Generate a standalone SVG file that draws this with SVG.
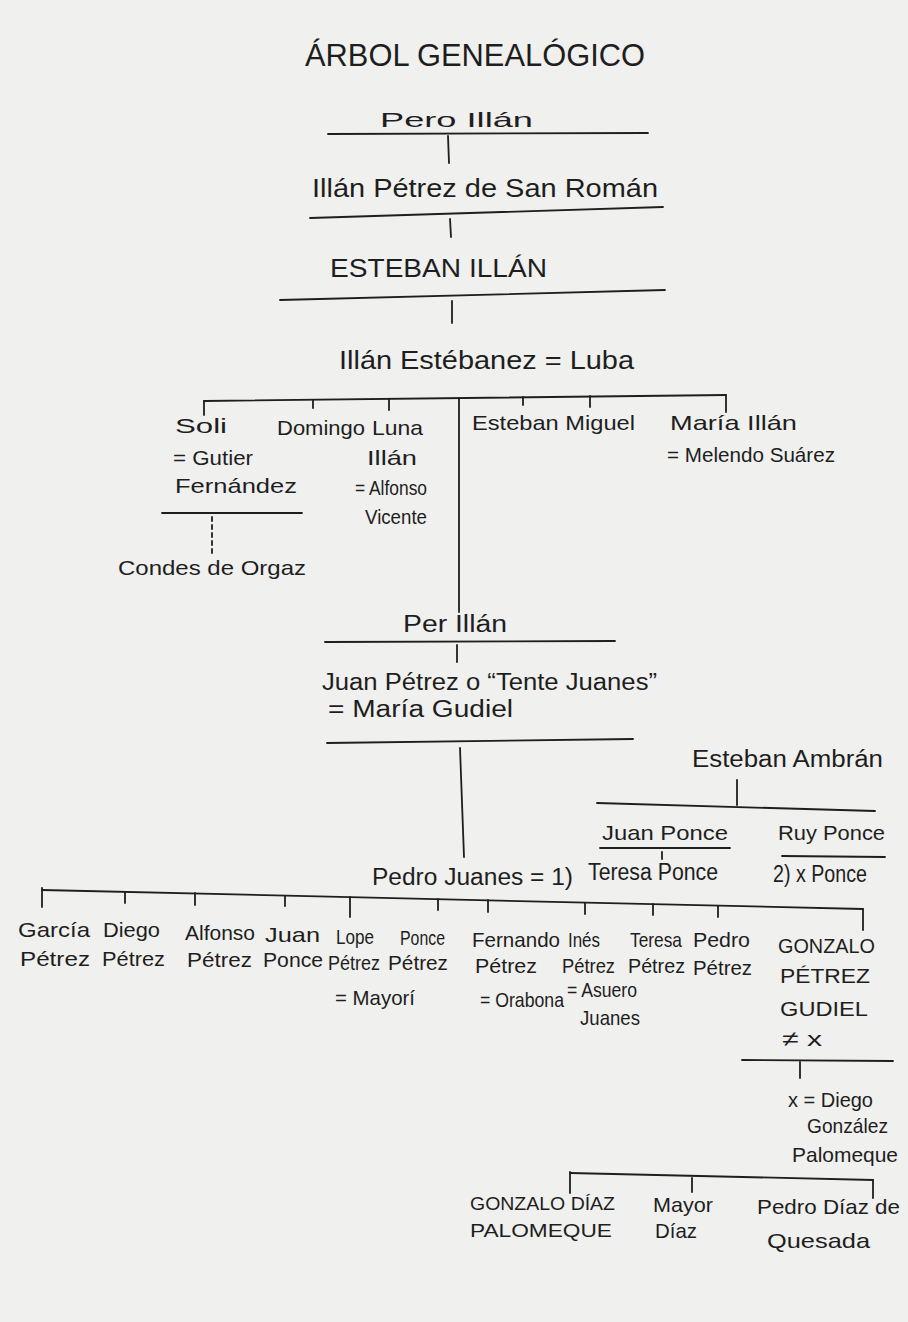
<svg xmlns="http://www.w3.org/2000/svg" width="908" height="1322" viewBox="0 0 908 1322">
<style>
text{font-family:"Liberation Sans","DejaVu Sans",sans-serif;fill:#1e1e1e;font-size:21px}
.t{font-size:32px}
.l{font-size:26px}
.m{font-size:23px}
.s{font-size:18px}
#connectors line{stroke:#1e1e1e;stroke-width:1.8;stroke-linecap:round}
#connectors .dash{stroke-dasharray:4 4}
</style>
<rect width="908" height="1322" fill="#f0f0ee"/>
<g id="title"><text class="t" x="305" y="66" textLength="340" lengthAdjust="spacingAndGlyphs">ÁRBOL GENEALÓGICO</text></g>
<g id="connectors">
<line x1="328" y1="134" x2="648" y2="133"/>
<line x1="448" y1="136" x2="449" y2="163"/>
<line x1="310" y1="218" x2="663" y2="207"/>
<line x1="450" y1="219" x2="451" y2="237"/>
<line x1="280" y1="300" x2="665" y2="290"/>
<line x1="452" y1="301" x2="452" y2="323"/>
<line x1="204" y1="401" x2="726" y2="395"/>
<line x1="204" y1="401" x2="204" y2="415"/>
<line x1="313" y1="400" x2="313" y2="408"/>
<line x1="389" y1="399" x2="389" y2="410"/>
<line x1="523" y1="397" x2="523" y2="405"/>
<line x1="590" y1="396" x2="590" y2="407"/>
<line x1="726" y1="395" x2="726" y2="412"/>
<line x1="459" y1="398" x2="459" y2="612"/>
<line x1="162" y1="513" x2="302" y2="513"/>
<line class="dash" x1="212" y1="517" x2="212" y2="555"/>
<line x1="325" y1="642" x2="615" y2="641"/>
<line x1="457" y1="645" x2="457" y2="662"/>
<line x1="327" y1="743" x2="633" y2="739"/>
<line x1="460" y1="748" x2="464" y2="857"/>
<line x1="737" y1="780" x2="737" y2="805"/>
<line x1="597" y1="803" x2="875" y2="811"/>
<line x1="600" y1="848" x2="730" y2="848"/>
<line x1="782" y1="856" x2="885" y2="857"/>
<line x1="662" y1="852" x2="662" y2="859"/>
<line x1="42" y1="890" x2="863" y2="909"/>
<line x1="42" y1="888" x2="42" y2="907"/>
<line x1="125" y1="892" x2="125" y2="903"/>
<line x1="195" y1="893" x2="195" y2="905"/>
<line x1="285" y1="896" x2="285" y2="906"/>
<line x1="350" y1="897" x2="350" y2="917"/>
<line x1="438" y1="899" x2="438" y2="910"/>
<line x1="488" y1="900" x2="488" y2="912"/>
<line x1="585" y1="903" x2="585" y2="914"/>
<line x1="653" y1="904" x2="653" y2="915"/>
<line x1="718" y1="906" x2="718" y2="917"/>
<line x1="863" y1="909" x2="863" y2="930"/>
<line x1="742" y1="1060" x2="893" y2="1061"/>
<line x1="800" y1="1062" x2="800" y2="1078"/>
<line x1="570" y1="1173" x2="873" y2="1180"/>
<line x1="570" y1="1172" x2="570" y2="1193"/>
<line x1="692" y1="1178" x2="692" y2="1192"/>
<line x1="873" y1="1180" x2="873" y2="1198"/>
</g>
<g id="pero-illan"><text x="380" y="127" font-size="26" textLength="153" lengthAdjust="spacingAndGlyphs">Pero Illán</text></g>
<g id="illan-petrez"><text class="l" x="312" y="197" textLength="346" lengthAdjust="spacingAndGlyphs">Illán Pétrez de San Román</text></g>
<g id="esteban-illan"><text class="l" x="330" y="277" textLength="217" lengthAdjust="spacingAndGlyphs">ESTEBAN ILLÁN</text></g>
<g id="illan-estebanez"><text class="l" x="339" y="369" textLength="295" lengthAdjust="spacingAndGlyphs">Illán Estébanez = Luba</text></g>
<g id="soli">
<text x="175" y="433" font-size="23" textLength="52" lengthAdjust="spacingAndGlyphs">Soli</text>
<text x="173" y="465" textLength="80" lengthAdjust="spacingAndGlyphs">= Gutier</text>
<text x="175" y="493" textLength="122" lengthAdjust="spacingAndGlyphs">Fernández</text>
</g>
<g id="condes-orgaz"><text x="118" y="575" textLength="188" lengthAdjust="spacingAndGlyphs">Condes de Orgaz</text></g>
<g id="domingo"><text x="277" y="435" textLength="88" lengthAdjust="spacingAndGlyphs">Domingo</text></g>
<g id="luna">
<text x="372" y="435" textLength="51" lengthAdjust="spacingAndGlyphs">Luna</text>
<text x="367" y="465" textLength="50" lengthAdjust="spacingAndGlyphs">Illán</text>
<text x="355" y="495" textLength="72" lengthAdjust="spacingAndGlyphs">= Alfonso</text>
<text x="365" y="524" textLength="62" lengthAdjust="spacingAndGlyphs">Vicente</text>
</g>
<g id="esteban-miguel"><text x="472" y="430" textLength="163" lengthAdjust="spacingAndGlyphs">Esteban Miguel</text></g>
<g id="maria-illan">
<text x="670" y="430" textLength="127" lengthAdjust="spacingAndGlyphs">María Illán</text>
<text x="667" y="462" textLength="168" lengthAdjust="spacingAndGlyphs">= Melendo Suárez</text>
</g>
<g id="per-illan"><text class="m" x="403" y="632" textLength="104" lengthAdjust="spacingAndGlyphs">Per Illán</text></g>
<g id="juan-petrez">
<text class="m" x="322" y="690" textLength="335" lengthAdjust="spacingAndGlyphs">Juan Pétrez o “Tente Juanes”</text>
<text class="m" x="328" y="717" textLength="185" lengthAdjust="spacingAndGlyphs">= María Gudiel</text>
</g>
<g id="esteban-ambran"><text class="m" x="692" y="767" textLength="191" lengthAdjust="spacingAndGlyphs">Esteban Ambrán</text></g>
<g id="juan-ponce"><text x="602" y="840" textLength="126" lengthAdjust="spacingAndGlyphs">Juan Ponce</text></g>
<g id="ruy-ponce"><text x="778" y="840" textLength="107" lengthAdjust="spacingAndGlyphs">Ruy Ponce</text></g>
<g id="pedro-juanes"><text class="m" x="372" y="885" textLength="201" lengthAdjust="spacingAndGlyphs">Pedro Juanes = 1)</text></g>
<g id="teresa-ponce"><text class="m" x="588" y="880" textLength="130" lengthAdjust="spacingAndGlyphs">Teresa Ponce</text></g>
<g id="x-ponce"><text class="m" x="773" y="882" textLength="94" lengthAdjust="spacingAndGlyphs">2) x Ponce</text></g>
<g id="garcia"><text x="18" y="937" textLength="72" lengthAdjust="spacingAndGlyphs">García</text><text x="20" y="966" textLength="70" lengthAdjust="spacingAndGlyphs">Pétrez</text></g>
<g id="diego"><text x="103" y="937" textLength="57" lengthAdjust="spacingAndGlyphs">Diego</text><text x="102" y="966" textLength="63" lengthAdjust="spacingAndGlyphs">Pétrez</text></g>
<g id="alfonso"><text x="185" y="940" textLength="70" lengthAdjust="spacingAndGlyphs">Alfonso</text><text x="187" y="967" textLength="65" lengthAdjust="spacingAndGlyphs">Pétrez</text></g>
<g id="juan"><text x="265" y="942" textLength="55" lengthAdjust="spacingAndGlyphs">Juan</text><text x="263" y="967" textLength="60" lengthAdjust="spacingAndGlyphs">Ponce</text></g>
<g id="lope"><text x="336" y="944" textLength="38" lengthAdjust="spacingAndGlyphs">Lope</text><text x="328" y="970" textLength="52" lengthAdjust="spacingAndGlyphs">Pétrez</text><text x="335" y="1005" textLength="80" lengthAdjust="spacingAndGlyphs">= Mayorí</text></g>
<g id="ponce"><text x="400" y="945" textLength="45" lengthAdjust="spacingAndGlyphs">Ponce</text><text x="388" y="970" textLength="60" lengthAdjust="spacingAndGlyphs">Pétrez</text></g>
<g id="fernando"><text x="472" y="947" textLength="88" lengthAdjust="spacingAndGlyphs">Fernando</text><text x="475" y="973" textLength="62" lengthAdjust="spacingAndGlyphs">Pétrez</text><text x="480" y="1007" textLength="84" lengthAdjust="spacingAndGlyphs">= Orabona</text></g>
<g id="ines"><text x="568" y="947" textLength="32" lengthAdjust="spacingAndGlyphs">Inés</text><text x="562" y="973" textLength="53" lengthAdjust="spacingAndGlyphs">Pétrez</text><text x="567" y="997" textLength="70" lengthAdjust="spacingAndGlyphs">= Asuero</text><text x="580" y="1025" textLength="60" lengthAdjust="spacingAndGlyphs">Juanes</text></g>
<g id="teresa"><text x="630" y="947" textLength="52" lengthAdjust="spacingAndGlyphs">Teresa</text><text x="628" y="973" textLength="57" lengthAdjust="spacingAndGlyphs">Pétrez</text></g>
<g id="pedro"><text x="693" y="947" textLength="57" lengthAdjust="spacingAndGlyphs">Pedro</text><text x="693" y="975" textLength="59" lengthAdjust="spacingAndGlyphs">Pétrez</text></g>
<g id="gonzalo-petrez">
<text x="778" y="953" textLength="97" lengthAdjust="spacingAndGlyphs">GONZALO</text>
<text x="780" y="983" textLength="90" lengthAdjust="spacingAndGlyphs">PÉTREZ</text>
<text x="780" y="1016" textLength="88" lengthAdjust="spacingAndGlyphs">GUDIEL</text>
<text x="782" y="1046" textLength="40" lengthAdjust="spacingAndGlyphs">≠ x</text>
</g>
<g id="x-diego">
<text x="788" y="1107" textLength="85" lengthAdjust="spacingAndGlyphs">x = Diego</text>
<text x="807" y="1133" textLength="81" lengthAdjust="spacingAndGlyphs">González</text>
<text x="792" y="1162" textLength="106" lengthAdjust="spacingAndGlyphs">Palomeque</text>
</g>
<g id="gonzalo-diaz"><text class="s" x="470" y="1210" textLength="145" lengthAdjust="spacingAndGlyphs">GONZALO DÍAZ</text><text class="s" x="470" y="1237" textLength="142" lengthAdjust="spacingAndGlyphs">PALOMEQUE</text></g>
<g id="mayor-diaz"><text x="653" y="1212" textLength="60" lengthAdjust="spacingAndGlyphs">Mayor</text><text x="655" y="1238" textLength="42" lengthAdjust="spacingAndGlyphs">Díaz</text></g>
<g id="pedro-diaz"><text x="757" y="1214" textLength="143" lengthAdjust="spacingAndGlyphs">Pedro Díaz de</text><text x="767" y="1248" textLength="103" lengthAdjust="spacingAndGlyphs">Quesada</text></g>
</svg>
